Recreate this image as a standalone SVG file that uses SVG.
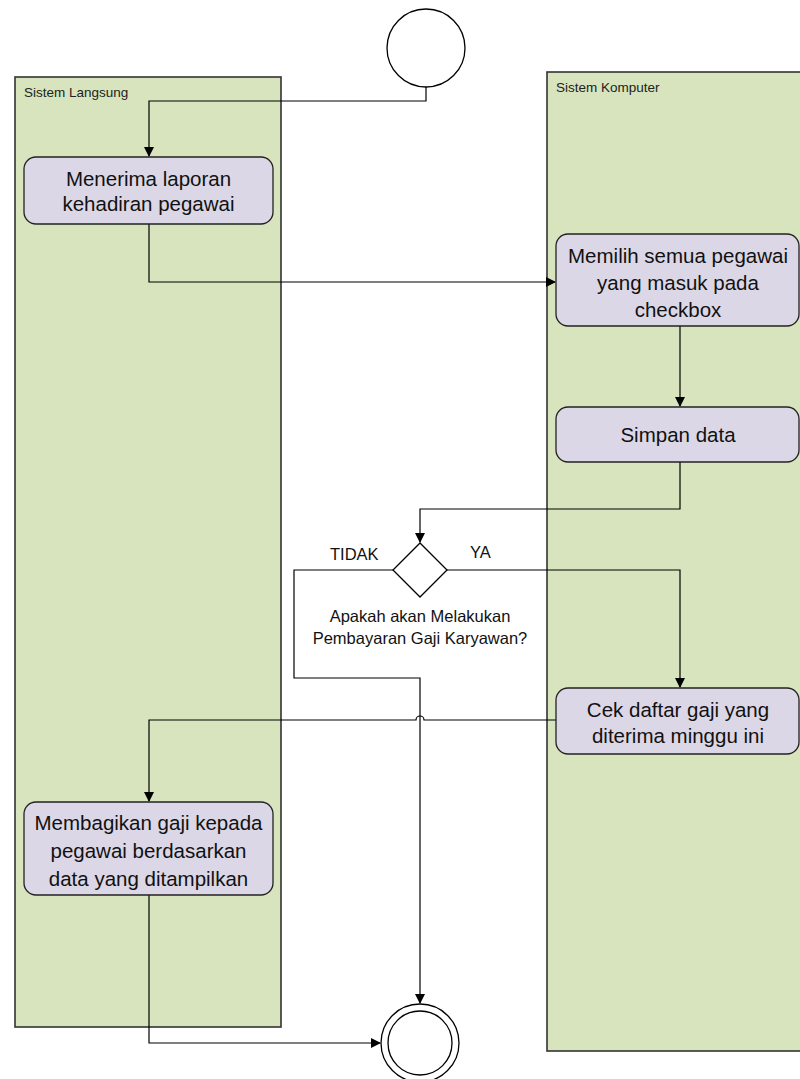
<svg xmlns="http://www.w3.org/2000/svg" width="800" height="1079" viewBox="0 0 800 1079">
<style>
.lane{fill:#d7e4bd;stroke:#333;stroke-width:1.6}
.lbl{font-family:"Liberation Sans",Arial,sans-serif;font-size:13.5px;fill:#222}
.act{fill:#dcd7e6;stroke:#222;stroke-width:1.3}
.t{font-family:"Liberation Sans",Arial,sans-serif;font-size:20.5px;fill:#111;text-anchor:middle}
.s{font-family:"Liberation Sans",Arial,sans-serif;font-size:16.5px;fill:#111}
.c{fill:none;stroke:#000;stroke-width:1.2}
.n{fill:#fff;stroke:#000;stroke-width:1.3}
</style>
<defs>
<marker id="arr" markerWidth="10" markerHeight="10" refX="9" refY="5" orient="auto" markerUnits="userSpaceOnUse">
<path d="M0,0 L10,5 L0,10 z" fill="#000"/>
</marker>
</defs>
<g id="lane-langsung">
<rect class="lane" x="15" y="77" width="266" height="950"/>
<text class="lbl" x="24" y="97">Sistem Langsung</text>
</g>
<g id="lane-komputer">
<rect class="lane" x="547" y="72" width="260" height="979"/>
<text class="lbl" x="556" y="92">Sistem Komputer</text>
</g>
<g id="connectors">
<path class="c" d="M426,87 V101 H149 V156" marker-end="url(#arr)"/>
<path class="c" d="M149,224 V282 H555" marker-end="url(#arr)"/>
<path class="c" d="M680,326 V406" marker-end="url(#arr)"/>
<path class="c" d="M680,462 V509 H420 V542" marker-end="url(#arr)"/>
<path class="c" d="M447,570 H680 V687" marker-end="url(#arr)"/>
<path class="c" d="M393,570 H294 V678 H420 V1003" marker-end="url(#arr)"/>
<path class="c" d="M556,720 H424 A4,4 0 0 0 416,720 H149 V801" marker-end="url(#arr)"/>
<path class="c" d="M149,895 V1043 H380" marker-end="url(#arr)"/>
</g>
<g id="start">
<circle class="n" cx="426" cy="48" r="39"/>
</g>
<g id="n1">
<rect class="act" x="24" y="157" width="249" height="67" rx="12"/>
<text class="t" x="148.5" y="186">Menerima laporan</text>
<text class="t" x="148.5" y="211">kehadiran pegawai</text>
</g>
<g id="n2">
<rect class="act" x="556" y="234" width="243" height="92" rx="12"/>
<text class="t" x="678" y="263">Memilih semua pegawai</text>
<text class="t" x="678" y="290">yang masuk pada</text>
<text class="t" x="678" y="317">checkbox</text>
</g>
<g id="n3">
<rect class="act" x="556" y="407" width="243" height="55" rx="12"/>
<text class="t" x="678" y="442">Simpan data</text>
</g>
<g id="decision">
<polygon class="n" points="420,543 447,570 420,597 393,570"/>
<text class="s" x="330" y="560" font-size="15">TIDAK</text>
<text class="s" x="470" y="558" font-size="15">YA</text>
<text class="s" x="420" y="622" text-anchor="middle">Apakah akan Melakukan</text>
<text class="s" x="420" y="644" text-anchor="middle">Pembayaran Gaji Karyawan?</text>
</g>
<g id="n4">
<rect class="act" x="556" y="688" width="243" height="66" rx="12"/>
<text class="t" x="678" y="717">Cek daftar gaji yang</text>
<text class="t" x="678" y="743">diterima minggu ini</text>
</g>
<g id="n5">
<rect class="act" x="24" y="802" width="249" height="93" rx="12"/>
<text class="t" x="148.5" y="830">Membagikan gaji kepada</text>
<text class="t" x="148.5" y="858">pegawai berdasarkan</text>
<text class="t" x="148.5" y="886">data yang ditampilkan</text>
</g>
<g id="end">
<circle class="n" cx="420" cy="1043" r="39"/>
<circle class="n" cx="420" cy="1043" r="32"/>
</g>
</svg>
